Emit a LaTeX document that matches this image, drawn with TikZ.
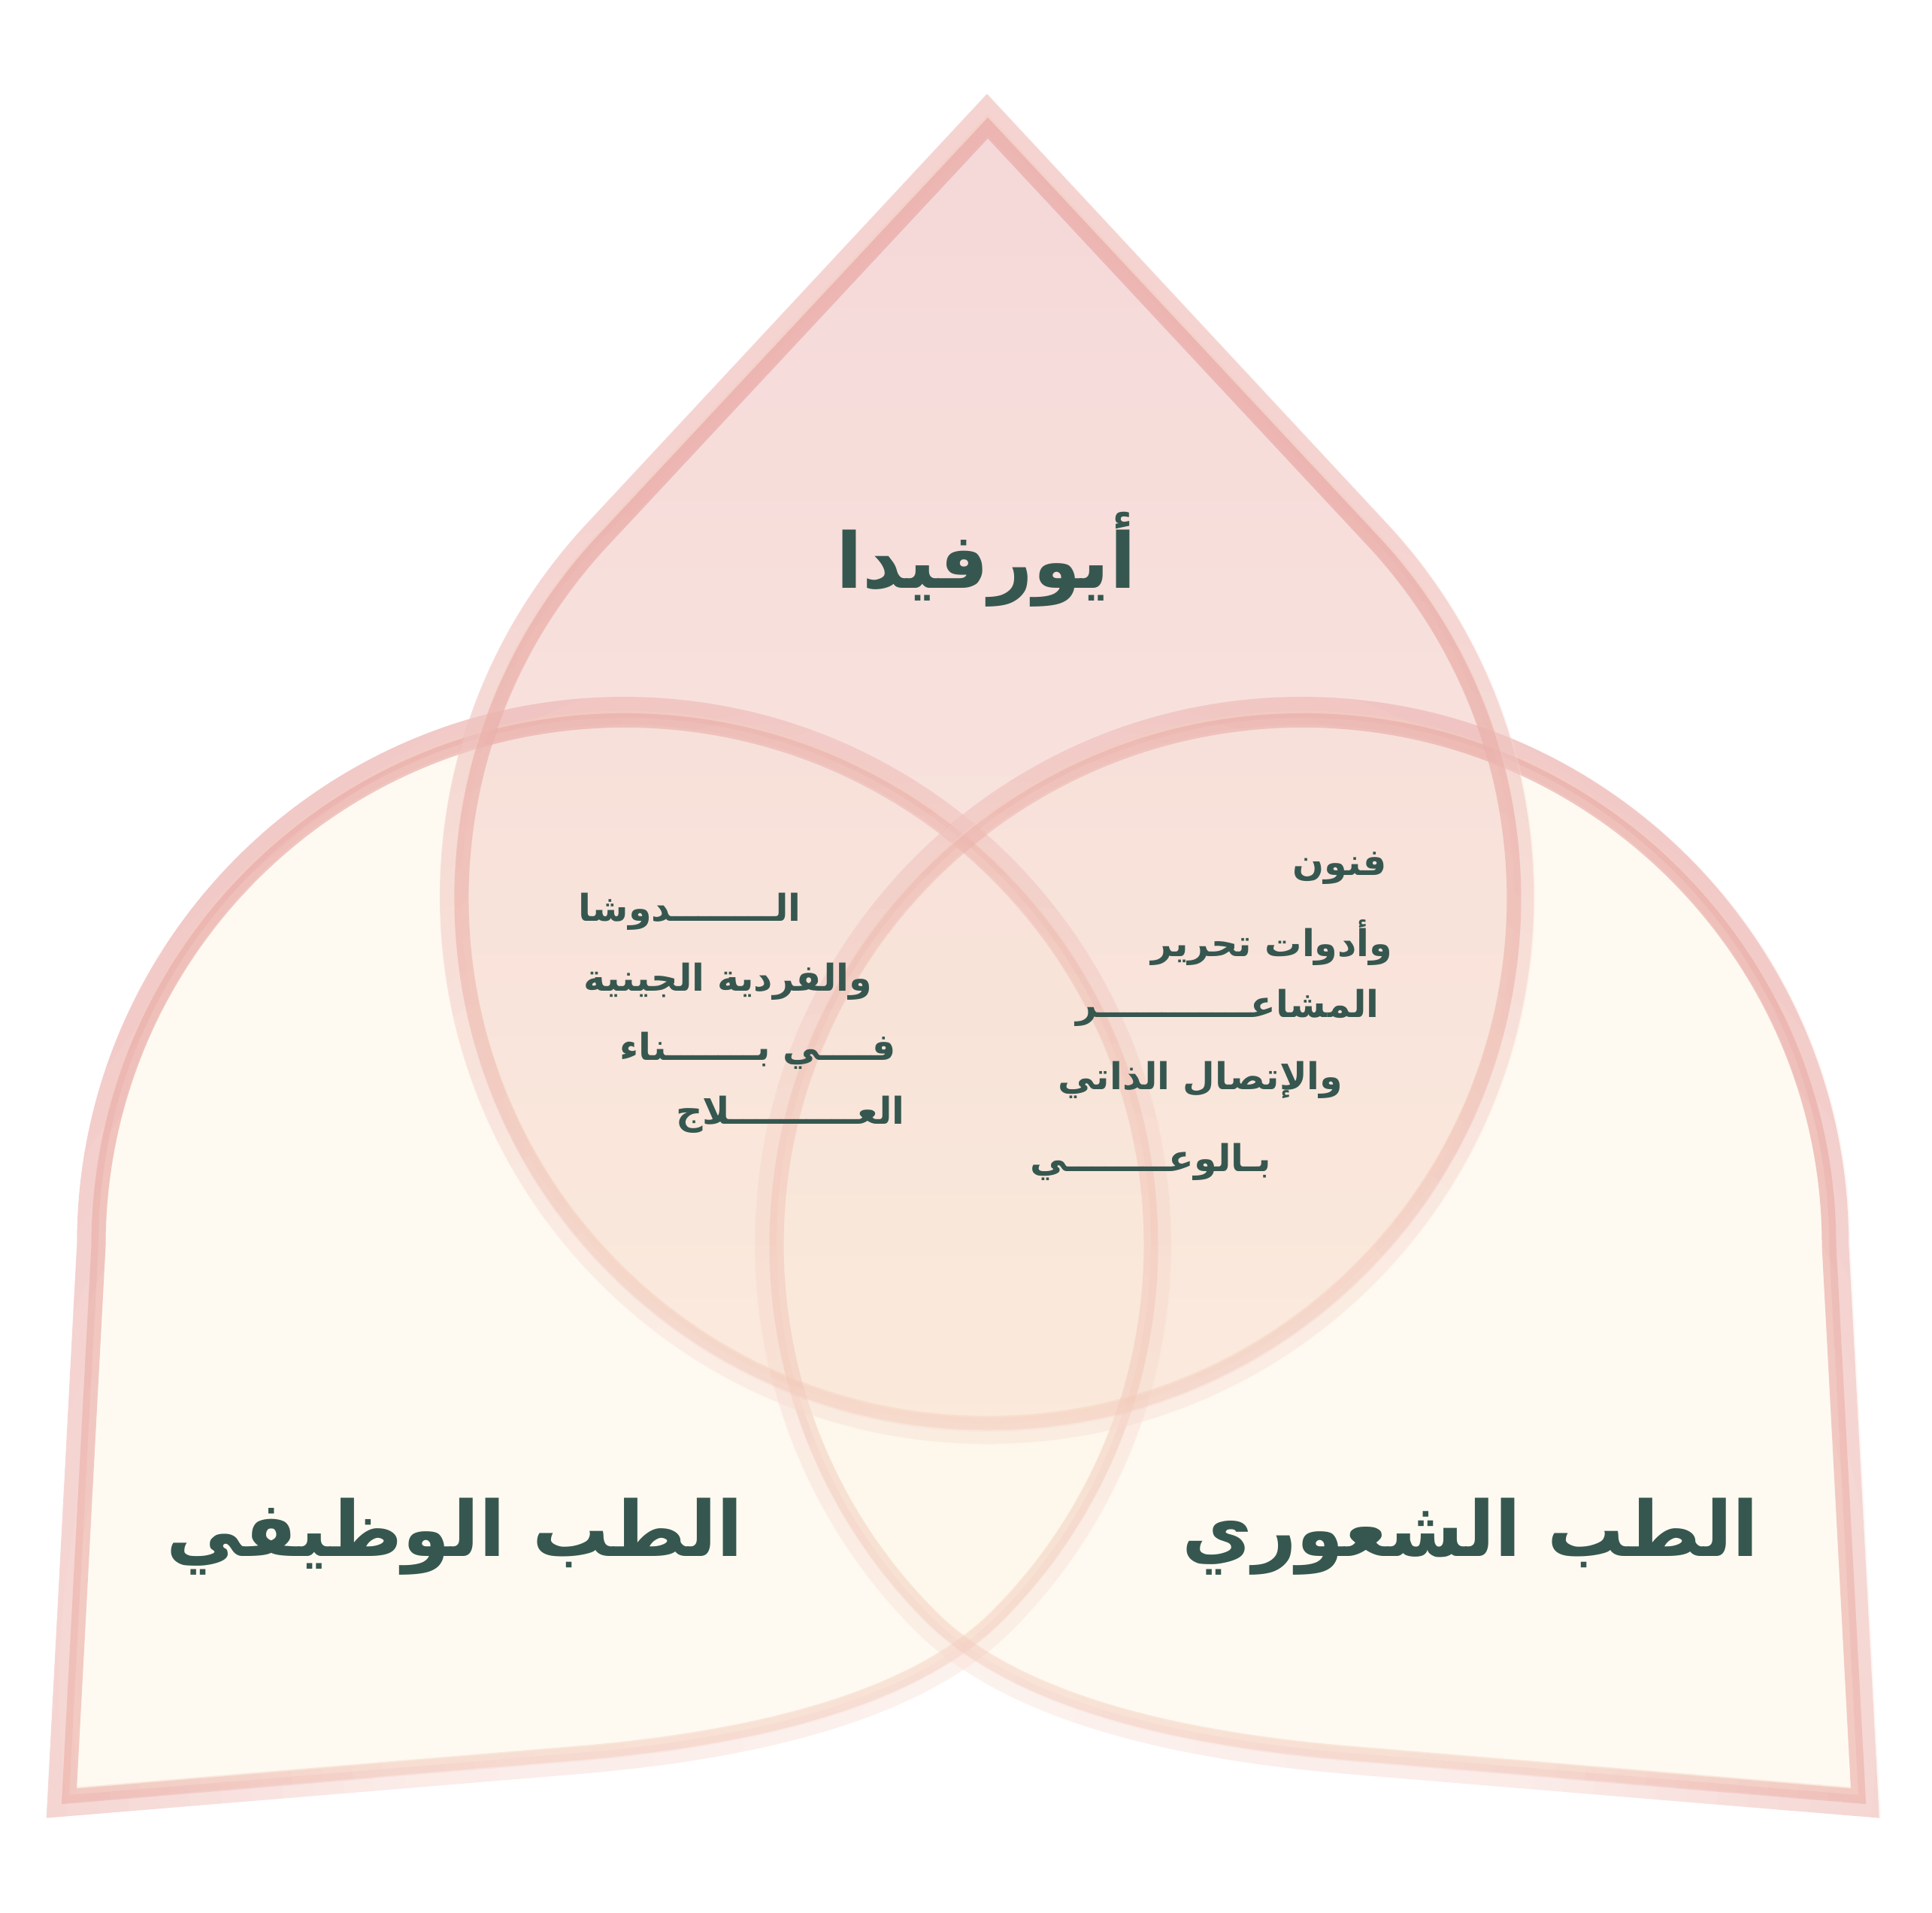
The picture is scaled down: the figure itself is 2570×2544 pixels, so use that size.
\documentclass[tikz,border=0pt]{standalone}
\usepackage{fontspec}
\usepackage{tikz}
\usetikzlibrary{fadings}
\TeXXeTstate=1
\newfontfamily\arabicfont[Script=Arabic]{DejaVu Sans}

\definecolor{inkgreen}{HTML}{36574F}
\definecolor{creamfill}{HTML}{FDF6E6}
\definecolor{toppink}{HTML}{F2CECF}
\definecolor{toppeach}{HTML}{FBE8D8}
\definecolor{pinkhalo}{HTML}{EDB8B7}
\definecolor{pinkrim}{HTML}{E9AAA8}
\definecolor{peachhalo}{HTML}{FAE2D6}
\definecolor{peachrim}{HTML}{F5CFBD}

\begin{tikzfadingfrompicture}[name=centrefade, x=0.038911bp, y=0.039308bp]
\fill[transparent!0] (0,0) rectangle (2570,2544);
\foreach \r in {850,830,...,10}{
  \pgfmathsetmacro\t{\r>810 ? 0 : (\r>388 ? 82*((811-\r)/423) : 82+13*((388-\r)/388))}
  \fill[transparent!\t] (1287,741) circle (\r);
}
\end{tikzfadingfrompicture}

\newcommand{\leftshape}{(92,156) -- (131,889) arc[start angle=180, end angle=-45, radius=700] .. controls (1220,288) and (1020,233) .. (770,212) -- cycle}
\newcommand{\rightshape}{(2472,156) -- (2433,889) arc[start angle=0, end angle=225, radius=700] .. controls (1344,288) and (1544,233) .. (1794,212) -- cycle}
\newcommand{\topshape}{(1314,2378) -- (801.7,1828.1) arc[start angle=137.03, end angle=402.97, radius=700] -- cycle}
\newcommand{\frameends}{(0,0) (2570,2544)}

\tikzset{
  halo/.style={line width=0.56cm},
  rim/.style={line width=0.19cm},
  faded/.style={path fading=centrefade},
  blocktext/.style={text=inkgreen, inner sep=0pt, anchor=east, font=\arabicfont\bfseries\fontsize{14}{18}\selectfont},
  titletext/.style={text=inkgreen, inner sep=0pt, font=\arabicfont\bfseries\fontsize{29}{36}\selectfont}
}

\begin{document}
\begin{tikzpicture}[x=0.01cm,y=0.01cm]
\useasboundingbox (0,0) rectangle (2570,2544);

\fill[creamfill, fill opacity=0.55] \leftshape;
\fill[creamfill, fill opacity=0.55] \rightshape;
\shade[top color=toppink, bottom color=toppeach, fill opacity=0.8] \topshape;

\begin{scope}[even odd rule]
\clip (0,0) rectangle (2570,2544) \leftshape;
\draw[halo, peachhalo, draw opacity=0.35] \leftshape;
\draw[halo, pinkhalo, draw opacity=0.85, faded] \leftshape \frameends;
\end{scope}
\draw[rim, peachrim, draw opacity=0.45] \leftshape;
\draw[rim, pinkrim, draw opacity=0.8, faded] \leftshape \frameends;

\begin{scope}[even odd rule]
\clip (0,0) rectangle (2570,2544) \rightshape;
\draw[halo, peachhalo, draw opacity=0.35] \rightshape;
\draw[halo, pinkhalo, draw opacity=0.85, faded] \rightshape \frameends;
\end{scope}
\draw[rim, peachrim, draw opacity=0.45] \rightshape;
\draw[rim, pinkrim, draw opacity=0.8, faded] \rightshape \frameends;

\begin{scope}[even odd rule]
\clip (0,0) rectangle (2570,2544) \topshape;
\draw[halo, peachhalo, draw opacity=0.35] \topshape;
\draw[halo, pinkhalo, draw opacity=0.55, faded] \topshape \frameends;
\end{scope}
\draw[rim, peachrim, draw opacity=0.45] \topshape;
\draw[rim, pinkrim, draw opacity=0.7, faded] \topshape \frameends;

\node[titletext] (ayurveda) at (1312,1800) {\beginR أيورفيدا\endR};
\node[titletext] (functional) at (605,500) {\beginR الطب الوظيفي\endR};
\node[titletext] (emotional) at (1956,500) {\beginR الطب الشعوري\endR};

\foreach \coord/\name/\txt in {{(1066,1331)/awe1/الــــــــدوشا},{(1161,1238)/awe2/والفردية الجينية},{(1192,1146)/awe3/فــــي بـــــــناء},{(1204,1061)/awe4/العــــــــــلاج}}
  \node[blocktext] (\name) at \coord {\beginR\txt\endR};

\foreach \coord/\name/\txt in {{(1845,1389)/art1/فنون},{(1853,1290)/art2/وأدوات تحرير},{(1835,1203)/art3/المشاعــــــــــــر},{(1787,1107)/art4/والإتصال الذاتي},{(1692,998)/art5/بـالوعــــــــي}}
  \node[blocktext] (\name) at \coord {\beginR\txt\endR};

\end{tikzpicture}
\end{document}
